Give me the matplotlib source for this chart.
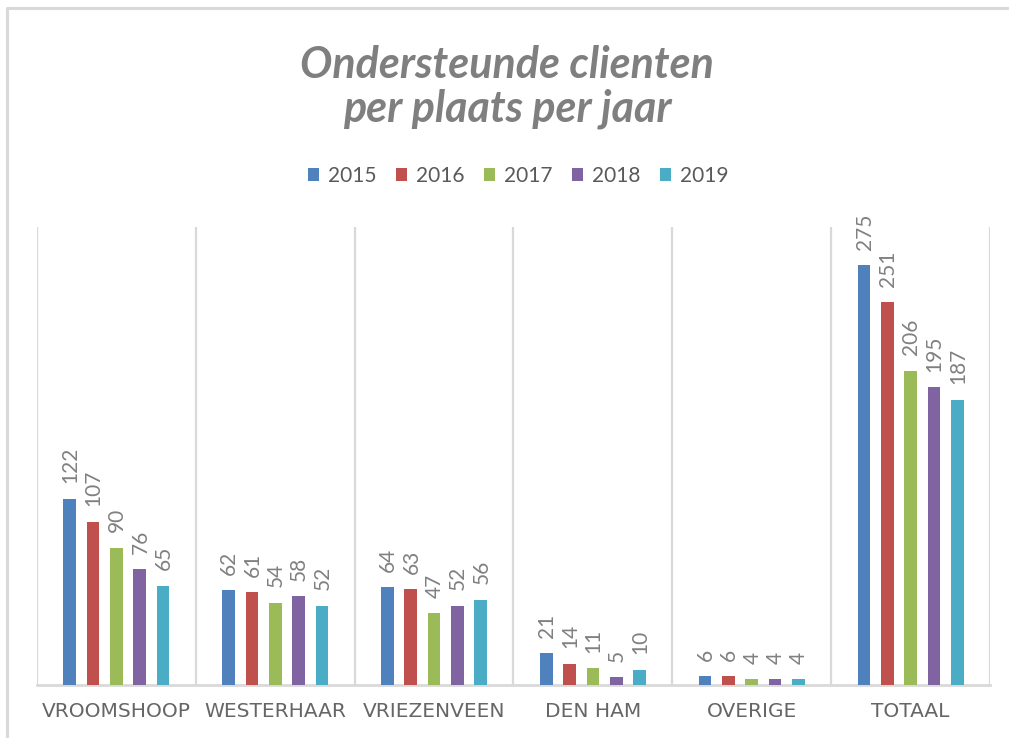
import matplotlib
matplotlib.use("Agg")
import matplotlib.pyplot as plt
from matplotlib.lines import Line2D
import numpy as np

categories = ["VROOMSHOOP", "WESTERHAAR", "VRIEZENVEEN", "DEN HAM", "OVERIGE", "TOTAAL"]
years = ["2015", "2016", "2017", "2018", "2019"]
v2015 = [122, 62, 64, 21, 6, 275]
v2016 = [107, 61, 63, 14, 6, 251]
v2017 = [90, 54, 47, 11, 4, 206]
v2018 = [76, 58, 52, 5, 4, 195]
v2019 = [65, 52, 56, 10, 4, 187]
series = [v2015, v2016, v2017, v2018, v2019]
colors = ["#4F81BD", "#C0504D", "#9BBB59", "#8064A2", "#4BACC6"]

title_text = "Ondersteunde clienten\nper plaats per jaar"

W, H = 1009, 738
fig = plt.figure(figsize=(W / 100, H / 100), dpi=100)
fig.patch.set_facecolor("white")

# outer chart frame (left and top edges visible)
frame = Line2D([7 / W, 7 / W, 1.0], [0.0, 1 - 8 / H, 1 - 8 / H],
               transform=fig.transFigure, color="#d9d9d9", lw=2.2)
fig.add_artist(frame)

ax = fig.add_axes([37 / W, 1 - 685 / H, (990 - 37) / W, (685 - 227) / H])
ax.set_xlim(-0.5, len(categories) - 0.5)
ax.set_ylim(0, 300)

x = np.arange(len(categories))
step = 0.147
bw = 0.08
for j, (vals, col, yr) in enumerate(zip(series, colors, years)):
    xs = x + (j - 2) * step
    ax.bar(xs, vals, width=bw, color=col, label=yr, zorder=3)
    for xi, v in zip(xs, vals):
        ax.annotate(str(v), (xi, v), xytext=(0.5, 11), textcoords="offset points",
                    rotation=90, ha="center", va="bottom",
                    fontsize=15, color="#808080", family="Lato")

# vertical separators
for b in np.arange(-0.5, len(categories) + 0.5, 1.0):
    ax.axvline(b, color="#d9d9d9", lw=1.6, zorder=1)

for s in ["top", "right", "left"]:
    ax.spines[s].set_visible(False)
ax.spines["bottom"].set_color("#d9d9d9")
ax.spines["bottom"].set_linewidth(2)
ax.set_yticks([])
ax.set_xticks(x)
ax.set_xticklabels(categories, fontsize=14.5, color="#666666", family="DejaVu Sans")
ax.tick_params(axis="x", length=0, pad=12)

fig.text(0.5025, 1 - 87 / H, title_text, ha="center", va="center",
         fontsize=31, fontweight="bold", style="italic", color="#7f7f7f",
         family="Lato", linespacing=1.12)

leg = fig.legend(loc="center", bbox_to_anchor=(518 / W, 1 - 176 / H), ncol=5,
                 frameon=False, prop={"family": "Lato", "size": 15},
                 handlelength=0.55, handleheight=0.55, handletextpad=0.4,
                 columnspacing=0.95, labelcolor="#595959")

fig.savefig("out.png", dpi=100)
